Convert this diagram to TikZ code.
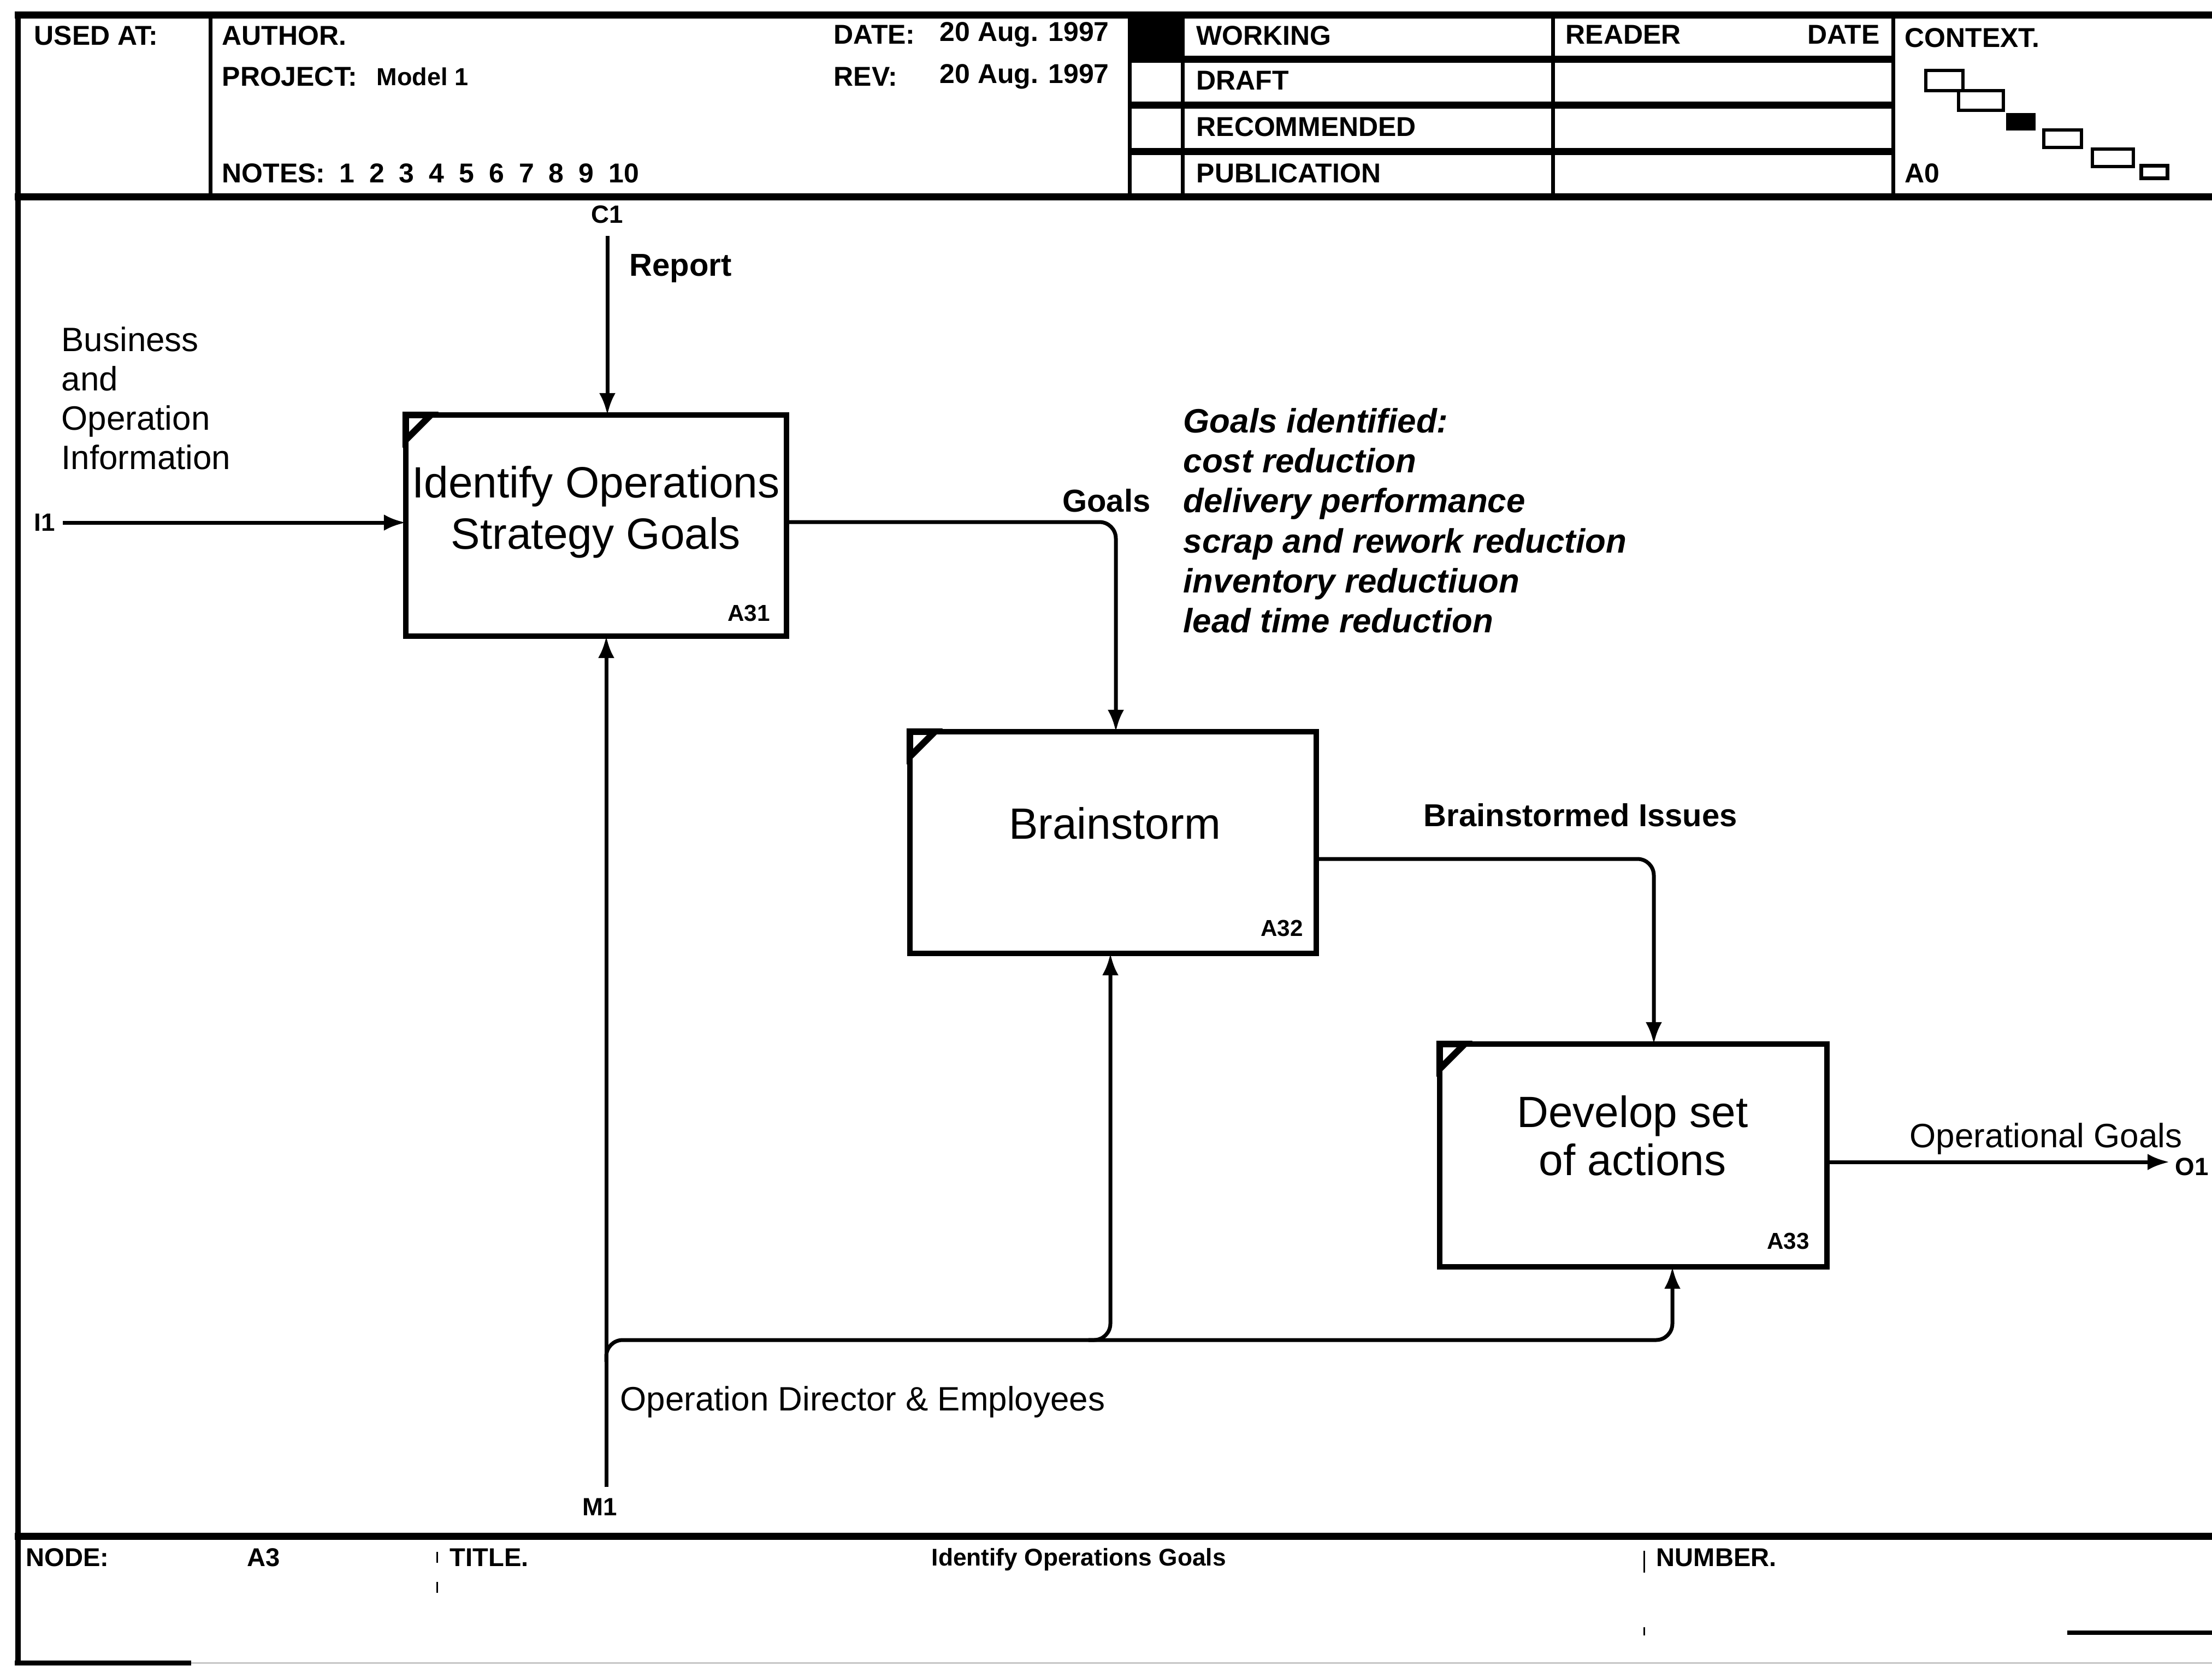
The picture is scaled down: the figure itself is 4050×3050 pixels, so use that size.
\documentclass[tikz,border=0pt]{standalone}
\usepackage{fontspec}
\setmainfont{Liberation Sans}
\usetikzlibrary{arrows.meta}
\begin{document}
\begin{tikzpicture}[x=0.01cm,y=-0.01cm,
  fbox/.style={draw, line width=0.1cm, inner sep=0pt, outer sep=0pt},
  conn/.style={line width=0.07cm},
  arr/.style={conn, -{Latex[length=0.4cm,width=0.3cm]}},
  frame/.style={line width=0.13cm},
  thin/.style={line width=0.07cm},
  hdr/.style={font=\bfseries\fontsize{14.2}{17}\selectfont, inner sep=0pt, anchor=west},
  ftr/.style={font=\bfseries\fontsize{13.4}{16}\selectfont, inner sep=0pt, anchor=west},
  ttl/.style={font=\fontsize{22.8}{26.7}\selectfont, inner sep=0pt, align=center},
  boxid/.style={font=\bfseries\fontsize{12}{14}\selectfont, inner sep=0pt},
  lab/.style={font=\fontsize{17.6}{20.5}\selectfont, inner sep=0pt},
  labb/.style={font=\bfseries\fontsize{16.5}{20}\selectfont, inner sep=0pt},
  tag/.style={font=\bfseries\fontsize{13}{15}\selectfont, inner sep=0pt},
  goalsty/.style={font=\bfseries\itshape\fontsize{17.6}{20.8}\selectfont, inner sep=0pt, align=left},
  cornermark/.style={line width=0.12cm}
]
\useasboundingbox (0,0) rectangle (4050,3050);
\fill[white] (0,0) rectangle (4050,3050);

% ---------- outer frame and header ----------
\draw[frame] (27,27) -- (4060,27);
\draw[frame] (27,360) -- (4060,360);
\draw[frame] (27,2813) -- (4060,2813);
\draw[line width=0.1cm] (33,22) -- (33,3048);
\draw[line width=0.09cm] (27,3045) -- (350,3045);
\draw[gray!45, line width=0.03cm] (350,3045) -- (4060,3045);

\draw[thin] (385,27) -- (385,360);
\draw[thin] (2068,27) -- (2068,360);
\draw[thin] (2165,27) -- (2165,360);
\draw[thin] (2843,27) -- (2843,360);
\draw[thin] (3466,27) -- (3466,360);
\draw[frame] (2068,108) -- (3466,108);
\draw[frame] (2068,192) -- (3466,192);
\draw[frame] (2068,277) -- (3466,277);
\fill (2068,27) rectangle (2165,108);

\node[hdr] (usedat) at (62,65) {USED AT:};
\node[hdr] (author) at (406,65) {AUTHOR.};
\node[hdr] (project) at (406,140) {PROJECT:};
\node[hdr, font=\bfseries\fontsize{12.8}{15}\selectfont] (model) at (689,140) {Model 1};
\node[hdr] (notes) at (406,317) {NOTES:\hspace{0.26cm}1\hspace{0.27cm}2\hspace{0.27cm}3\hspace{0.27cm}4\hspace{0.27cm}5\hspace{0.27cm}6\hspace{0.27cm}7\hspace{0.27cm}8\hspace{0.27cm}9\hspace{0.27cm}10};
\node[hdr] (date) at (1526,63) {DATE:};
\node[hdr] (datev) at (1720,63) {20 Aug. 1997};
\node[hdr] (rev) at (1526,140) {REV:};
\node[hdr] (revv) at (1720,140) {20 Aug. 1997};
\node[hdr] (working) at (2190,65) {WORKING};
\node[hdr] (draft) at (2190,147) {DRAFT};
\node[hdr] (recom) at (2190,232) {RECOMMENDED};
\node[hdr] (publ) at (2190,317) {PUBLICATION};
\node[hdr] (reader) at (2866,63) {READER};
\node[hdr, anchor=east] (rdate) at (3442,63) {DATE};
\node[hdr] (context) at (3487,69) {CONTEXT.};
\node[hdr] (a0) at (3487,317) {A0};

% context staircase
\draw[line width=0.06cm] (3526,129) rectangle (3594,166);
\draw[line width=0.06cm] (3586,166) rectangle (3668,202);
\fill (3673,207) rectangle (3727,239);
\draw[line width=0.06cm] (3742,238) rectangle (3811,270);
\draw[line width=0.06cm] (3831,273) rectangle (3906,305);
\draw[line width=0.07cm] (3920,303) rectangle (3968,326);

% ---------- footer ----------
\node[ftr] (nodef) at (47,2852) {NODE:};
\node[ftr] (a3) at (452,2852) {A3};
\node[ftr] (titlef) at (823,2852) {TITLE.};
\node[ftr, font=\bfseries\fontsize{12.6}{15}\selectfont] (ttlf) at (1705,2856) {Identify Operations Goals};
\node[ftr] (numberf) at (3032,2852) {NUMBER.};
\draw[line width=0.03cm, dash pattern=on 0.2cm off 0.35cm] (800,2842) -- (800,2950);
\draw[line width=0.03cm, dash pattern=on 0.4cm off 1.0cm] (3010,2840) -- (3010,2995);
\draw[line width=0.08cm] (3785,2990) -- (4060,2990);

% ---------- activity boxes ----------
\node[fbox, minimum width=6.97cm, minimum height=4.05cm] (a31) at (1091.5,962.5) {};
\node[fbox, minimum width=7.44cm, minimum height=4.06cm] (a32) at (2038,1543) {};
\node[fbox, minimum width=7.09cm, minimum height=4.08cm] (a33) at (2990.5,2116) {};

\draw[cornermark] (a31.north west) -- ++(46,0) -- ++(-46,46) -- cycle;
\draw[cornermark] (a32.north west) -- ++(46,0) -- ++(-46,46) -- cycle;
\draw[cornermark] (a33.north west) -- ++(46,0) -- ++(-46,46) -- cycle;

\node[ttl, anchor=north] (t31) at (1091,853) {Identify Operations\\Strategy Goals};
\node[ttl] (t32) at (2041,1508) {Brainstorm};
\node[ttl, anchor=north, font=\fontsize{22.8}{25}\selectfont] (t33) at (2989,2006) {Develop set\\of actions};

\node[boxid] (id31) at (1371,1123) {A31};
\node[boxid] (id32) at (2347,1700) {A32};
\node[boxid] (id33) at (3274,2273) {A33};

% ---------- connectors ----------
\coordinate (c1) at (1112,432);
\coordinate (i1) at (115,957);
\coordinate (g1) at (2043,956);
\coordinate (b1) at (3028,1573);
\coordinate (o1) at (3972,2128);
\coordinate (m1) at (1110,2723);
\coordinate (mj) at (1110,2454);
\coordinate (mb) at (2033,2454);
\coordinate (mc) at (3062,2454);

\draw[arr] (c1) -- (c1 |- a31.north);
\draw[arr] (i1) -- (i1 -| a31.west);
\draw[arr, rounded corners=0.3cm] (a31.east |- g1) -- (g1) -- (g1 |- a32.north);
\draw[arr, rounded corners=0.3cm] (a32.east |- b1) -- (b1) -- (b1 |- a33.north);
\draw[arr] (a33.east |- o1) -- (o1);
\draw[arr] (m1) -- (m1 |- a31.south);
\draw[arr, rounded corners=0.3cm] ([yshift=-0.4cm]mj) -- (mj) -- (mb) -- (mb |- a32.south);
\draw[arr, rounded corners=0.3cm] ([xshift=-0.4cm]mb) -- (mc) -- (mc |- a33.south);

% ---------- labels ----------
\node[tag] (c1l) at (1112,393) {C1};
\node[labb, anchor=west] (report) at (1152,492) {Report};
\node[tag, anchor=west] (i1l) at (62,957) {I1};
\node[lab, anchor=north west, align=left] (bus) at (112,598) {Business\\and\\Operation\\Information};
\node[labb] (goals) at (2026,917) {Goals};
\node[goalsty, anchor=north west] (glist) at (2166,747) {Goals identified:\\cost reduction\\delivery performance\\scrap and rework reduction\\inventory reductiuon\\lead time reduction};
\node[labb, anchor=west] (brs) at (2606,1493) {Brainstormed Issues};
\node[lab, anchor=west] (opg) at (3496,2085) {Operational Goals};
\node[tag, anchor=west] (o1l) at (3982,2137) {O1};
\node[lab, anchor=west] (ode) at (1135,2567) {Operation Director \& Employees};
\node[tag] (m1l) at (1098,2760) {M1};
\end{tikzpicture}
\end{document}
